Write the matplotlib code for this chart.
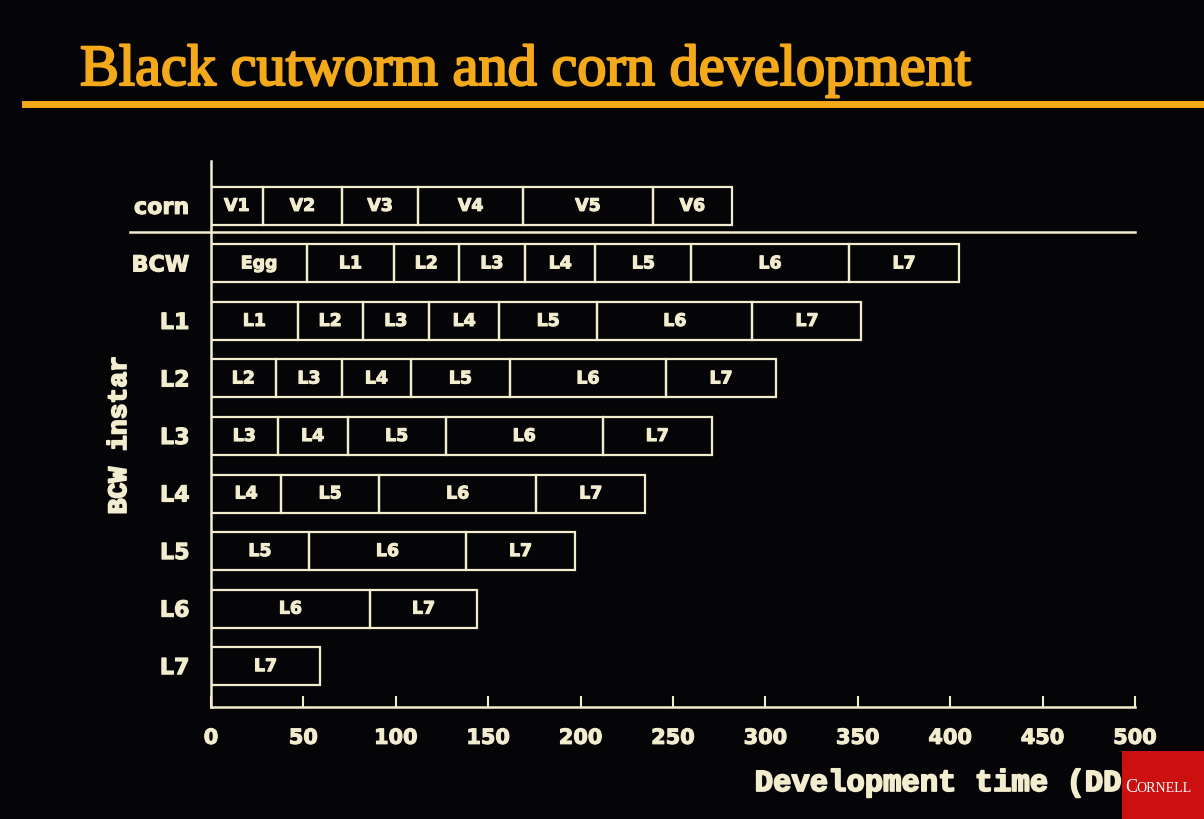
import matplotlib
matplotlib.use("Agg")
import matplotlib.pyplot as plt
import matplotlib.patheffects as pe
from matplotlib.lines import Line2D
from matplotlib.patches import Rectangle

# ---- data (degree-day end points of each stage) ----
row_labels = ["corn", "BCW", "L1", "L2", "L3", "L4", "L5", "L6", "L7"]

corn_stages = ["V1", "V2", "V3", "V4", "V5", "V6"]
corn_ends = [28, 71, 112, 169, 239, 282]

bcw_stages = ["Egg", "L1", "L2", "L3", "L4", "L5", "L6", "L7"]
bcw_ends = [52, 99, 134, 170, 208, 260, 345, 405]

instar_names = ["L1", "L2", "L3", "L4", "L5", "L6", "L7"]
instar_ends = [
    [47, 82, 118, 156, 209, 293, 352],
    [35, 71, 108, 162, 246, 306],
    [36, 74, 127, 212, 271],
    [38, 91, 176, 235],
    [53, 138, 197],
    [86, 144],
    [59],
]

x_ticks = [0, 50, 100, 150, 200, 250, 300, 350, 400, 450, 500]

BG = "#050507"
CREAM = "#F2EDCF"
ORANGE = "#F4A91A"

W, H = 1204, 820
fig = plt.figure(figsize=(W / 100, H / 100), dpi=100, facecolor=BG)
ax = fig.add_axes([211 / W, 1 - 708 / H, 924 / W, 546 / H], facecolor=BG)

heavy = [pe.withStroke(linewidth=0.8, foreground=CREAM)]
heavier = [pe.withStroke(linewidth=1.3, foreground=CREAM)]

rows = [(corn_stages, corn_ends), (bcw_stages, bcw_ends)]
for i, ends in enumerate(instar_ends):
    rows.append((instar_names[i:], ends))

box_h = 0.66
for r, (stages, ends) in enumerate(rows):
    starts = [0] + ends[:-1]
    widths = [e - s for s, e in zip(starts, ends)]
    ax.barh([r] * len(ends), widths, left=starts, height=box_h,
            color="none", edgecolor=CREAM, linewidth=1.6)
    for name, s, e in zip(stages, starts, ends):
        ax.text((s + e) / 2, r, name, ha="center", va="center",
                color=CREAM, fontsize=12.5, fontweight="bold",
                family=["DejaVu Sans"], path_effects=heavy)

# separator between corn and BCW rows
ax.plot([-44, 500], [0.45, 0.45], color=CREAM, lw=1.8, clip_on=False)

ax.set_xlim(0, 500)
ax.set_ylim(8.71, -0.78)
ax.set_xticks(x_ticks)
ax.set_xticklabels([str(t) for t in x_ticks])
ax.set_yticks(range(len(row_labels)))
ax.set_yticklabels(row_labels)

for side in ["top", "right"]:
    ax.spines[side].set_visible(False)
for side in ["left", "bottom"]:
    ax.spines[side].set_color(CREAM)
    ax.spines[side].set_linewidth(1.8)

ax.tick_params(axis="x", direction="in", length=8, width=1.5, color=CREAM,
               labelcolor=CREAM, pad=15, labelsize=15)
ax.tick_params(axis="y", left=False, labelcolor=CREAM, pad=12, labelsize=16)
for lab in ax.get_xticklabels() + ax.get_yticklabels():
    lab.set_fontweight("bold")
    lab.set_family(["DejaVu Sans"])
    lab.set_path_effects(heavy)

# axis titles in typewriter face
fig.text(1138 / W, 1 - 784 / H, "Development time (DD)", ha="right", va="center",
         color=CREAM, fontsize=22, fontweight="bold", family=["Liberation Mono"],
         path_effects=heavier)
fig.text(119 / W, 1 - 436 / H, "BCW instar", rotation=90, ha="center", va="center",
         color=CREAM, fontsize=19, fontweight="bold", family=["Liberation Mono"],
         path_effects=heavier)

# slide title and rule
fig.text(80 / W, 1 - 86 / H, "Black cutworm and corn development", ha="left",
         va="baseline", color=ORANGE, fontsize=42, family=["Liberation Serif"],
         path_effects=[pe.withStroke(linewidth=1.6, foreground=ORANGE)])
fig.add_artist(Line2D([25 / W, 1.0], [1 - 105 / H, 1 - 105 / H], color=ORANGE, lw=5))

# Cornell logo block
fig.add_artist(Rectangle((1122 / W, 0), 82 / W, 68 / H, transform=fig.transFigure,
                         facecolor="#CC0F0F", edgecolor="none", zorder=10))
fig.text(1125 / W, 1 - 792 / H, "C", ha="left", va="baseline", color="white",
         fontsize=13, family=["Liberation Serif"], zorder=11)
fig.text(1136 / W, 1 - 792 / H, "ORNELL", ha="left", va="baseline", color="white",
         fontsize=10, family=["Liberation Serif"], zorder=11)

fig.savefig("out.png", dpi=100, facecolor=BG)
